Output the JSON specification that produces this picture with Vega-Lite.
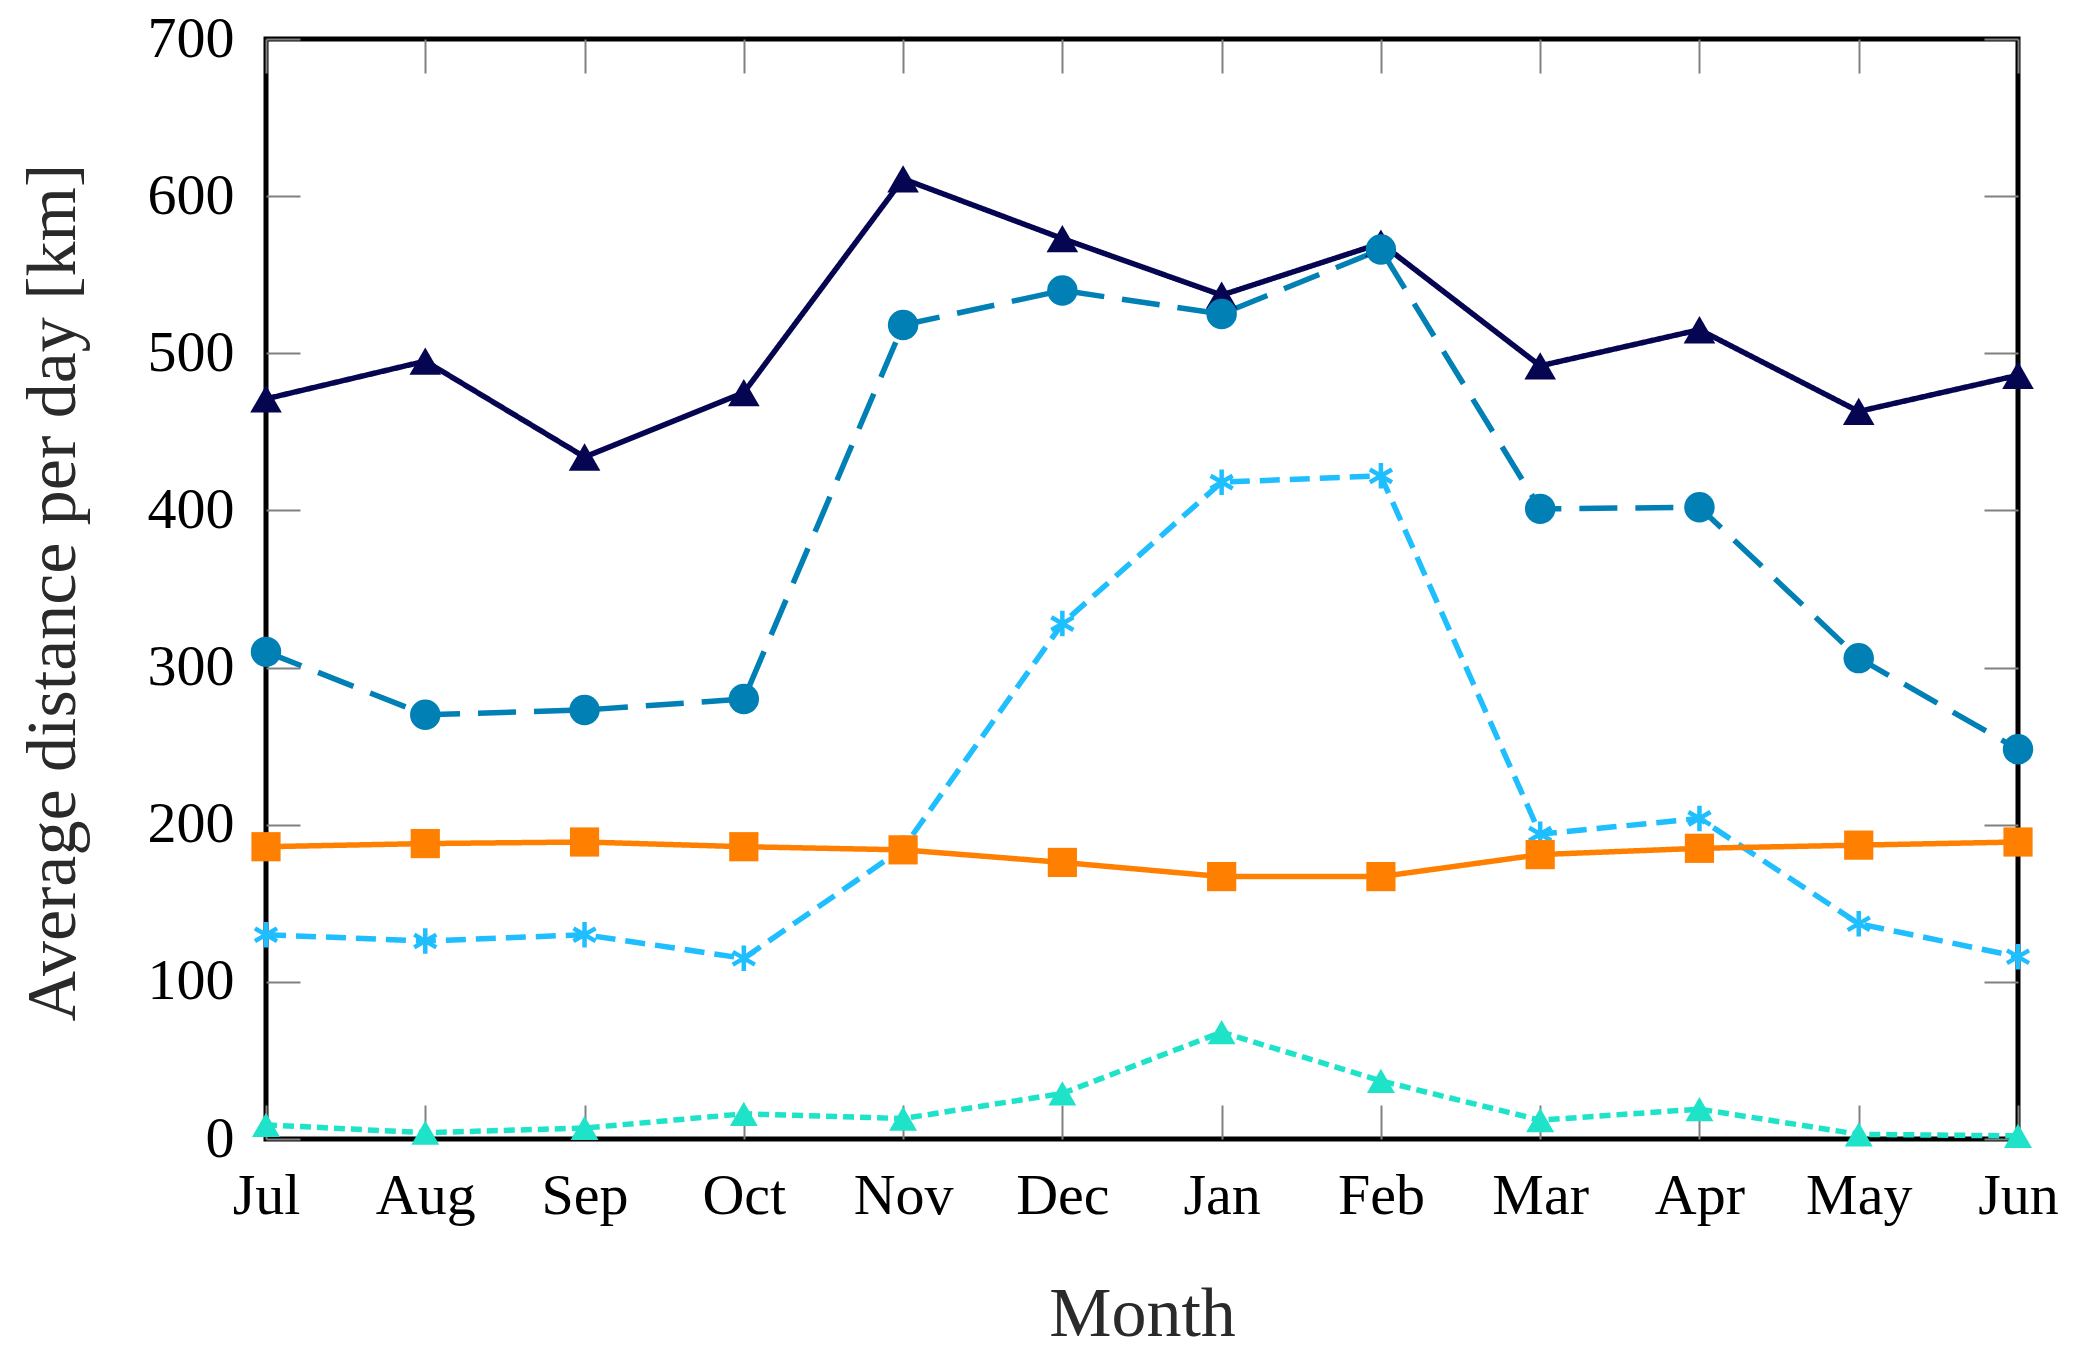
{
  "$schema": "https://vega.github.io/schema/vega-lite/v6.json",
  "width": 1752,
  "height": 1100,
  "autosize": {"type": "none"},
  "padding": {"left": 266, "top": 39, "right": 66, "bottom": 218},
  "background": "white",
  "config": {
    "view": {"stroke": "black", "strokeWidth": 5},
    "font": "Liberation Serif",
    "axis": {"grid": false, "domain": false}
  },
  "data": {
    "values": [
      {"month": "Jul", "series": "S1", "value": 471},
      {"month": "Aug", "series": "S1", "value": 495},
      {"month": "Sep", "series": "S1", "value": 434},
      {"month": "Oct", "series": "S1", "value": 475},
      {"month": "Nov", "series": "S1", "value": 611},
      {"month": "Dec", "series": "S1", "value": 573},
      {"month": "Jan", "series": "S1", "value": 537},
      {"month": "Feb", "series": "S1", "value": 570},
      {"month": "Mar", "series": "S1", "value": 492},
      {"month": "Apr", "series": "S1", "value": 515},
      {"month": "May", "series": "S1", "value": 463},
      {"month": "Jun", "series": "S1", "value": 486},
      {"month": "Jul", "series": "S2", "value": 310},
      {"month": "Aug", "series": "S2", "value": 270},
      {"month": "Sep", "series": "S2", "value": 273},
      {"month": "Oct", "series": "S2", "value": 280},
      {"month": "Nov", "series": "S2", "value": 518},
      {"month": "Dec", "series": "S2", "value": 540},
      {"month": "Jan", "series": "S2", "value": 525},
      {"month": "Feb", "series": "S2", "value": 566},
      {"month": "Mar", "series": "S2", "value": 401},
      {"month": "Apr", "series": "S2", "value": 402},
      {"month": "May", "series": "S2", "value": 306},
      {"month": "Jun", "series": "S2", "value": 248},
      {"month": "Jul", "series": "S3", "value": 130},
      {"month": "Aug", "series": "S3", "value": 126},
      {"month": "Sep", "series": "S3", "value": 130},
      {"month": "Oct", "series": "S3", "value": 115},
      {"month": "Nov", "series": "S3", "value": 185},
      {"month": "Dec", "series": "S3", "value": 328},
      {"month": "Jan", "series": "S3", "value": 418},
      {"month": "Feb", "series": "S3", "value": 422},
      {"month": "Mar", "series": "S3", "value": 194},
      {"month": "Apr", "series": "S3", "value": 204},
      {"month": "May", "series": "S3", "value": 137},
      {"month": "Jun", "series": "S3", "value": 116},
      {"month": "Jul", "series": "S4", "value": 186},
      {"month": "Aug", "series": "S4", "value": 188},
      {"month": "Sep", "series": "S4", "value": 189},
      {"month": "Oct", "series": "S4", "value": 186},
      {"month": "Nov", "series": "S4", "value": 184},
      {"month": "Dec", "series": "S4", "value": 176},
      {"month": "Jan", "series": "S4", "value": 167},
      {"month": "Feb", "series": "S4", "value": 167},
      {"month": "Mar", "series": "S4", "value": 181},
      {"month": "Apr", "series": "S4", "value": 185},
      {"month": "May", "series": "S4", "value": 187},
      {"month": "Jun", "series": "S4", "value": 189},
      {"month": "Jul", "series": "S5", "value": 9},
      {"month": "Aug", "series": "S5", "value": 4},
      {"month": "Sep", "series": "S5", "value": 7},
      {"month": "Oct", "series": "S5", "value": 16},
      {"month": "Nov", "series": "S5", "value": 13},
      {"month": "Dec", "series": "S5", "value": 29},
      {"month": "Jan", "series": "S5", "value": 68},
      {"month": "Feb", "series": "S5", "value": 37},
      {"month": "Mar", "series": "S5", "value": 12},
      {"month": "Apr", "series": "S5", "value": 19},
      {"month": "May", "series": "S5", "value": 3},
      {"month": "Jun", "series": "S5", "value": 2}
    ]
  },
  "resolve": {"axis": {"x": "independent", "y": "independent"}},
  "layer": [
    {
      "mark": {"type": "line"},
      "encoding": {
        "x": {
          "field": "month", "type": "ordinal",
          "sort": ["Jul","Aug","Sep","Oct","Nov","Dec","Jan","Feb","Mar","Apr","May","Jun"],
          "scale": {"type": "point", "padding": 0},
          "axis": {
            "orient": "bottom", "title": "Month", "labelAngle": 0,
            "labelFont": "Liberation Serif", "labelFontSize": 58, "labelColor": "black",
            "labelPadding": 62, "labelOverlap": false,
            "tickSize": -34, "tickColor": "#808080", "tickWidth": 2,
            "titleFont": "Liberation Serif", "titleFontSize": 70, "titleFontWeight": "normal",
            "titleColor": "#2a2a2a", "titleBaseline": "alphabetic", "titleX": 876, "titleY": 196
          }
        },
        "y": {
          "field": "value", "type": "quantitative",
          "scale": {"domain": [0, 700], "nice": false},
          "axis": {
            "orient": "left", "title": "Average distance per day [km]",
            "values": [0,100,200,300,400,500,600,700],
            "labelFont": "Liberation Serif", "labelFontSize": 58, "labelColor": "black",
            "labelPadding": 66, "labelOverlap": false,
            "tickSize": -34, "tickColor": "#808080", "tickWidth": 2,
            "titleFont": "Liberation Serif", "titleFontSize": 70, "titleFontWeight": "normal",
            "titleColor": "#2a2a2a", "titleBaseline": "alphabetic", "titleAngle": 270,
            "titleX": -192, "titleY": 553
          }
        },
        "color": {
          "field": "series", "type": "nominal", "legend": null,
          "scale": {"domain": ["S1","S2","S3","S4","S5"], "range": ["#050552","#0080B5","#1EBEFF","#FF8000","#1EE3C8"]}
        },
        "strokeDash": {
          "field": "series", "type": "nominal", "legend": null,
          "scale": {"domain": ["S1","S2","S3","S4","S5"], "range": [[1,0],[38,18],[20,10],[1,0],[11,6]]}
        },
        "strokeWidth": {
          "field": "series", "type": "nominal", "legend": null,
          "scale": {"domain": ["S1","S2","S3","S4","S5"], "range": [5.5,5.5,6,5.5,6]}
        }
      }
    },
    {
      "transform": [{"filter": "datum.series === 'S3'"}],
      "mark": {"type": "point", "shape": "M0,-1L0,1M-0.866,-0.5L0.866,0.5M-0.866,0.5L0.866,-0.5", "filled": false, "size": 650, "strokeWidth": 4.5, "color": "#1EBEFF", "opacity": 1},
      "encoding": {
        "x": {"field": "month", "type": "ordinal", "sort": ["Jul","Aug","Sep","Oct","Nov","Dec","Jan","Feb","Mar","Apr","May","Jun"], "scale": {"type": "point", "padding": 0}, "axis": null},
        "y": {"field": "value", "type": "quantitative", "scale": {"domain": [0, 700], "nice": false}, "axis": null}
      }
    },
    {
      "transform": [{"filter": "datum.series !== 'S3'"}],
      "mark": {"type": "point", "filled": true, "opacity": 1},
      "encoding": {
        "x": {"field": "month", "type": "ordinal", "sort": ["Jul","Aug","Sep","Oct","Nov","Dec","Jan","Feb","Mar","Apr","May","Jun"], "scale": {"type": "point", "padding": 0}, "axis": null},
        "y": {"field": "value", "type": "quantitative", "scale": {"domain": [0, 700], "nice": false}, "axis": null},
        "color": {"field": "series", "type": "nominal", "legend": null},
        "shape": {
          "field": "series", "type": "nominal", "legend": null,
          "scale": {"domain": ["S1","S2","S4","S5"], "range": ["triangle-up","circle","square","triangle-up"]}
        },
        "size": {
          "field": "series", "type": "nominal", "legend": null,
          "scale": {"domain": ["S1","S2","S4","S5"], "range": [1000, 780, 680, 1050]}
        }
      }
    },
    {
      "mark": {"type": "point", "opacity": 0},
      "encoding": {
        "x": {"field": "month", "type": "ordinal", "sort": ["Jul","Aug","Sep","Oct","Nov","Dec","Jan","Feb","Mar","Apr","May","Jun"], "scale": {"type": "point", "padding": 0},
          "axis": {"orient": "top", "labels": false, "title": null, "tickSize": -34, "tickColor": "#808080", "tickWidth": 2}},
        "y": {"field": "value", "type": "quantitative", "scale": {"domain": [0, 700], "nice": false},
          "axis": {"orient": "right", "labels": false, "title": null, "values": [0,100,200,300,400,500,600,700], "tickSize": -34, "tickColor": "#808080", "tickWidth": 2}}
      }
    }
  ]
}
